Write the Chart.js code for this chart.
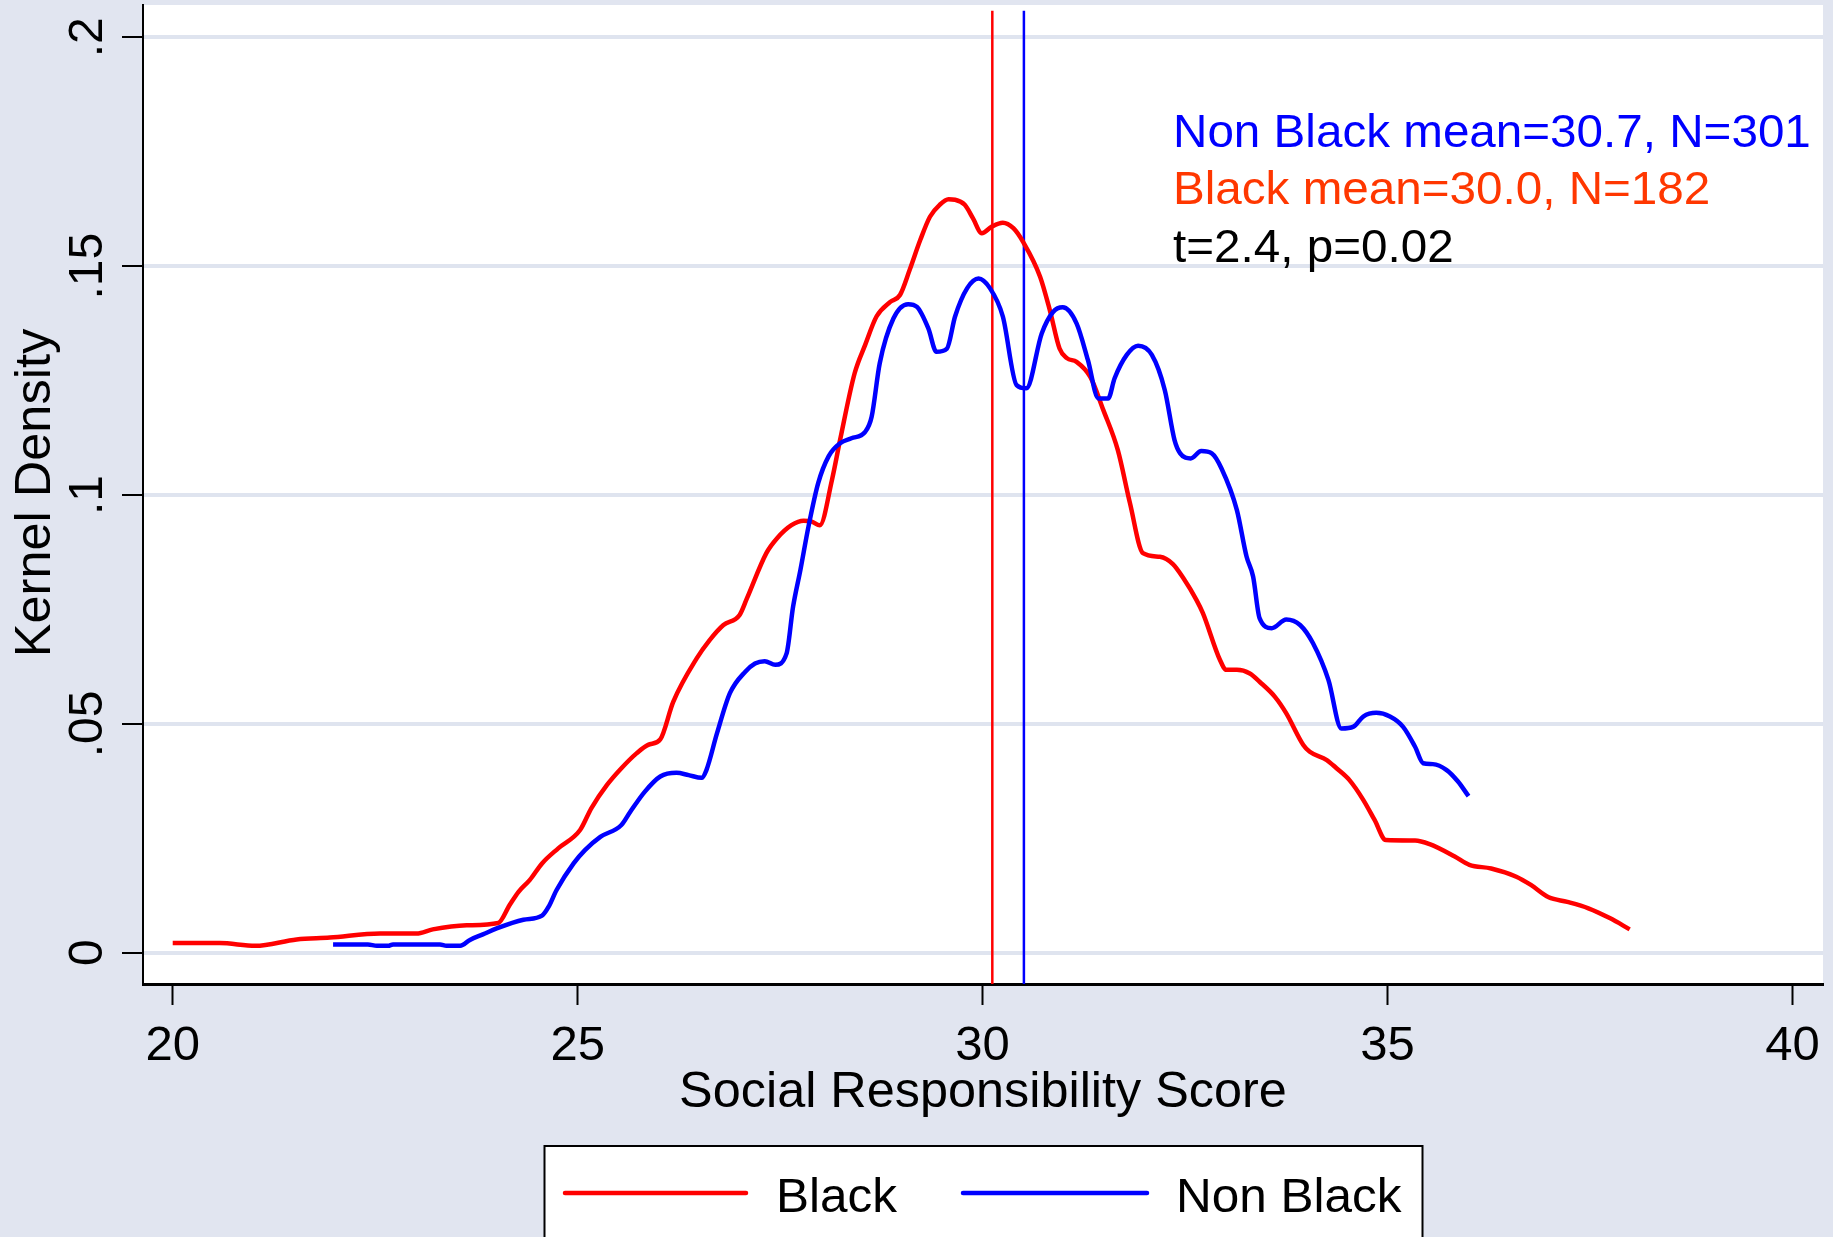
<!DOCTYPE html>
<html>
<head>
<meta charset="utf-8">
<script src="https://cdn.jsdelivr.net/npm/chart.js@4/dist/chart.umd.min.js"></script>
<style>
  html, body { margin: 0; padding: 0; background: #E1E5F0; }
  canvas { display: block; }
</style>
</head>
<body>
<canvas id="kd" width="1833" height="1237" style="width:1833px;height:1237px"></canvas>
<script>
// Axis ticks
const xTicks = [20, 25, 30, 35, 40];
const yTicks = [0, 0.05, 0.1, 0.15, 0.2];
const yTickLabels = ["0", ".05", ".1", ".15", ".2"];

// Kernel density estimate, Black respondents
const scoreBlack = [
  20.00, 20.58, 21.02, 21.53, 21.94, 22.56, 23.01, 23.21, 23.63, 24.02,
  24.16, 24.27, 24.41, 24.56, 24.76, 25.03, 25.17, 25.36, 25.54, 25.73,
  25.87, 26.02, 26.18, 26.47, 26.63, 26.80, 27.00, 27.09, 27.33, 27.46,
  27.64, 27.79, 27.89, 27.99, 28.14, 28.24, 28.42, 28.55, 28.69, 28.86,
  28.98, 29.10, 29.23, 29.35, 29.47, 29.58, 29.66, 29.78, 29.88, 29.99,
  30.11, 30.25, 30.38, 30.50, 30.71, 30.83, 30.95, 31.04, 31.16, 31.33,
  31.49, 31.67, 31.82, 31.98, 32.19, 32.35, 32.48, 32.64, 32.72, 32.93,
  33.01, 33.14, 33.30, 33.42, 33.61, 33.75, 33.96, 34.04, 34.25, 34.37,
  34.53, 34.70, 34.84, 34.98, 35.34, 35.52, 35.83, 36.01, 36.28, 36.59,
  36.77, 36.99, 37.22, 37.48, 37.75, 37.99
];
const densityBlack = [
  0.0021, 0.0021, 0.0015, 0.0029, 0.0033, 0.0042, 0.0042, 0.0051, 0.0060, 0.0065,
  0.0104, 0.0133, 0.0159, 0.0195, 0.0228, 0.0268, 0.0316, 0.0366, 0.0403, 0.0436,
  0.0454, 0.0466, 0.0548, 0.0643, 0.0683, 0.0716, 0.0738, 0.0774, 0.0873, 0.0905,
  0.0934, 0.0944, 0.0942, 0.0934, 0.1033, 0.1120, 0.1266, 0.1328, 0.1390, 0.1422,
  0.1437, 0.1492, 0.1557, 0.1608, 0.1634, 0.1646, 0.1645, 0.1634, 0.1605, 0.1572,
  0.1586, 0.1595, 0.1583, 0.1553, 0.1477, 0.1404, 0.1320, 0.1299, 0.1291, 0.1258,
  0.1186, 0.1098, 0.0982, 0.0873, 0.0865, 0.0849, 0.0818, 0.0771, 0.0742, 0.0640,
  0.0618, 0.0618, 0.0610, 0.0592, 0.0559, 0.0523, 0.0454, 0.0439, 0.0421, 0.0403,
  0.0377, 0.0334, 0.0290, 0.0246, 0.0245, 0.0237, 0.0210, 0.0192, 0.0184, 0.0166,
  0.0148, 0.0121, 0.0111, 0.0097, 0.0075, 0.0051
];

// Kernel density estimate, Non Black respondents
const scoreNonBlack = [
  21.98, 22.41, 22.52, 22.66, 22.72, 23.30, 23.38, 23.55, 23.67, 23.83,
  24.00, 24.33, 24.56, 24.64, 24.74, 24.95, 25.09, 25.28, 25.54, 25.65,
  25.83, 26.02, 26.22, 26.37, 26.53, 26.59, 26.72, 26.88, 27.07, 27.19,
  27.31, 27.44, 27.58, 27.66, 27.75, 27.85, 27.97, 28.10, 28.24, 28.38,
  28.55, 28.63, 28.73, 28.90, 29.08, 29.19, 29.33, 29.43, 29.56, 29.66,
  29.81, 29.95, 30.09, 30.25, 30.42, 30.54, 30.73, 30.87, 30.99, 31.16,
  31.30, 31.43, 31.55, 31.63, 31.78, 31.92, 32.09, 32.25, 32.37, 32.44,
  32.57, 32.70, 32.83, 32.95, 33.14, 33.26, 33.34, 33.42, 33.57, 33.75,
  33.92, 34.08, 34.27, 34.43, 34.58, 34.70, 34.86, 35.03, 35.19, 35.34,
  35.44, 35.56, 35.73, 35.87, 36.00
];
const densityNonBlack = [
  0.0018, 0.0018, 0.0015, 0.0015, 0.0018, 0.0018, 0.0015, 0.0015, 0.0028, 0.0040,
  0.0053, 0.0072, 0.0081, 0.0100, 0.0137, 0.0195, 0.0224, 0.0253, 0.0279, 0.0308,
  0.0352, 0.0385, 0.0393, 0.0388, 0.0382, 0.0399, 0.0479, 0.0567, 0.0614, 0.0632,
  0.0637, 0.0629, 0.0654, 0.0756, 0.0836, 0.0931, 0.1026, 0.1085, 0.1113, 0.1124,
  0.1138, 0.1171, 0.1288, 0.1386, 0.1417, 0.1411, 0.1364, 0.1313, 0.1320, 0.1390,
  0.1452, 0.1473, 0.1452, 0.1390, 0.1240, 0.1233, 0.1353, 0.1400, 0.1410, 0.1375,
  0.1295, 0.1211, 0.1211, 0.1255, 0.1306, 0.1326, 0.1306, 0.1229, 0.1120, 0.1091,
  0.1080, 0.1096, 0.1091, 0.1058, 0.0967, 0.0865, 0.0822, 0.0731, 0.0709, 0.0728,
  0.0716, 0.0676, 0.0596, 0.0490, 0.0494, 0.0516, 0.0524, 0.0516, 0.0494, 0.0450,
  0.0414, 0.0412, 0.0399, 0.0374, 0.0342
];

// Vertical reference lines (Black, Non Black)
const xlineBlack = 30.12;
const xlineNonBlack = 30.51;

// Summary text in the top-right corner
const statText = ["Non Black mean=30.7, N=301", "Black mean=30.0, N=182", "t=2.4, p=0.02"];
const statColors = ["#0000FF", "#FF3700", "#000000"];

const FONT = '"Liberation Sans", Arial, Helvetica, sans-serif';
const BG = '#E1E5F0';
const GRID = '#DFE4EF';
const RED = '#FF0000';
const BLUE = '#0000FF';

const X_MIN = 19.633, X_MAX = 40.377;
const Y_MIN = -0.00684, Y_MAX = 0.20706;
const XLINE_TOP = 0.2058;

const toPoints = (xs, ys) => xs.map((x, i) => ({ x: x, y: ys[i] }));

function drawText(ctx, s, x, y, size, color, align, stretch) {
  ctx.save();
  ctx.translate(x, y);
  ctx.scale(stretch || 1, 1);
  ctx.font = size + 'px ' + FONT;
  ctx.fillStyle = color;
  ctx.textAlign = align || 'left';
  ctx.textBaseline = 'alphabetic';
  ctx.fillText(s, 0, 0);
  ctx.restore();
}

const decor = {
  id: 'decor',
  beforeDraw(chart) {
    const { ctx, chartArea: a } = chart;
    ctx.save();
    ctx.fillStyle = BG;
    ctx.fillRect(0, 0, chart.width, chart.height);
    ctx.fillStyle = '#FFFFFF';
    ctx.fillRect(a.left, a.top, a.right - a.left, a.bottom - a.top);
    ctx.restore();
  },
  afterDraw(chart) {
    const { ctx, chartArea: a } = chart;
    const xs = chart.scales.x, ys = chart.scales.y;

    // x tick labels
    xTicks.forEach(v => drawText(ctx, String(v), xs.getPixelForValue(v), 1060, 49, '#000', 'center'));

    // y tick labels, rotated
    yTicks.forEach((v, i) => {
      ctx.save();
      ctx.translate(101.5, ys.getPixelForValue(v));
      ctx.rotate(-Math.PI / 2);
      drawText(ctx, yTickLabels[i], 0, 0, 48, '#000', 'center');
      ctx.restore();
    });

    // axis titles
    drawText(ctx, 'Social Responsibility Score', (a.left + a.right) / 2, 1107, 49.5, '#000', 'center', 1.018);
    ctx.save();
    ctx.translate(50, 493);
    ctx.rotate(-Math.PI / 2);
    drawText(ctx, 'Kernel Density', 0, 0, 50, '#000', 'center', 1.01);
    ctx.restore();

    // summary statistics
    const baselines = [146.7, 204.3, 262.3];
    statText.forEach((s, i) => drawText(ctx, s, 1173, baselines[i], 46, statColors[i], 'left', 1.035));

    // legend
    ctx.save();
    ctx.fillStyle = '#FFFFFF';
    ctx.fillRect(544.5, 1146, 878, 120);
    ctx.strokeStyle = '#000000';
    ctx.lineWidth = 2;
    ctx.strokeRect(544.5, 1146, 878, 120);
    ctx.restore();
    const items = [
      { ds: chart.data.datasets[0], x0: 565, x1: 746, tx: 776 },
      { ds: chart.data.datasets[1], x0: 963, x1: 1147, tx: 1176 }
    ];
    items.forEach(it => {
      ctx.save();
      ctx.strokeStyle = it.ds.borderColor;
      ctx.lineWidth = 4.5;
      ctx.lineCap = 'round';
      ctx.beginPath();
      ctx.moveTo(it.x0, 1193);
      ctx.lineTo(it.x1, 1193);
      ctx.stroke();
      ctx.restore();
      drawText(ctx, it.ds.label, it.tx, 1211.7, 49, '#000', 'left', 1.01);
    });
  }
};

const chart = new Chart(document.getElementById('kd'), {
  type: 'line',
  data: {
    datasets: [
      {
        label: 'Black',
        data: toPoints(scoreBlack, densityBlack),
        borderColor: RED, borderWidth: 4.5, pointRadius: 0,
        cubicInterpolationMode: 'monotone', fill: false, order: 1
      },
      {
        label: 'Non Black',
        data: toPoints(scoreNonBlack, densityNonBlack),
        borderColor: BLUE, borderWidth: 4.5, pointRadius: 0,
        cubicInterpolationMode: 'monotone', fill: false, order: 0
      },
      {
        label: 'xline Black',
        data: [{ x: xlineBlack, y: Y_MIN }, { x: xlineBlack, y: XLINE_TOP }],
        borderColor: RED, borderWidth: 2.5, pointRadius: 0, fill: false, order: 2
      },
      {
        label: 'xline Non Black',
        data: [{ x: xlineNonBlack, y: Y_MIN }, { x: xlineNonBlack, y: XLINE_TOP }],
        borderColor: BLUE, borderWidth: 2.5, pointRadius: 0, fill: false, order: 2
      }
    ]
  },
  options: {
    responsive: false,
    animation: false,
    devicePixelRatio: 1,
    layout: { padding: { left: 0, right: 10, top: 5, bottom: 123 } },
    plugins: { legend: { display: false }, tooltip: { enabled: false } },
    scales: {
      x: {
        type: 'linear', min: X_MIN, max: X_MAX,
        afterBuildTicks: s => { s.ticks = xTicks.map(v => ({ value: v })); },
        afterFit: s => { s.height = 130; },
        ticks: { display: false },
        grid: { drawOnChartArea: false, drawTicks: true, tickLength: 21, tickColor: '#000', tickWidth: 2 },
        border: { display: true, color: '#000', width: 3 }
      },
      y: {
        type: 'linear', min: Y_MIN, max: Y_MAX,
        afterBuildTicks: s => { s.ticks = yTicks.map(v => ({ value: v })); },
        afterFit: s => { s.width = 143; },
        ticks: { display: false },
        grid: { color: GRID, lineWidth: 4, drawTicks: true, tickLength: 21, tickColor: '#000', tickWidth: 2 },
        border: { display: true, color: '#000', width: 2 }
      }
    }
  },
  plugins: [decor]
});
</script>
</body>
</html>
